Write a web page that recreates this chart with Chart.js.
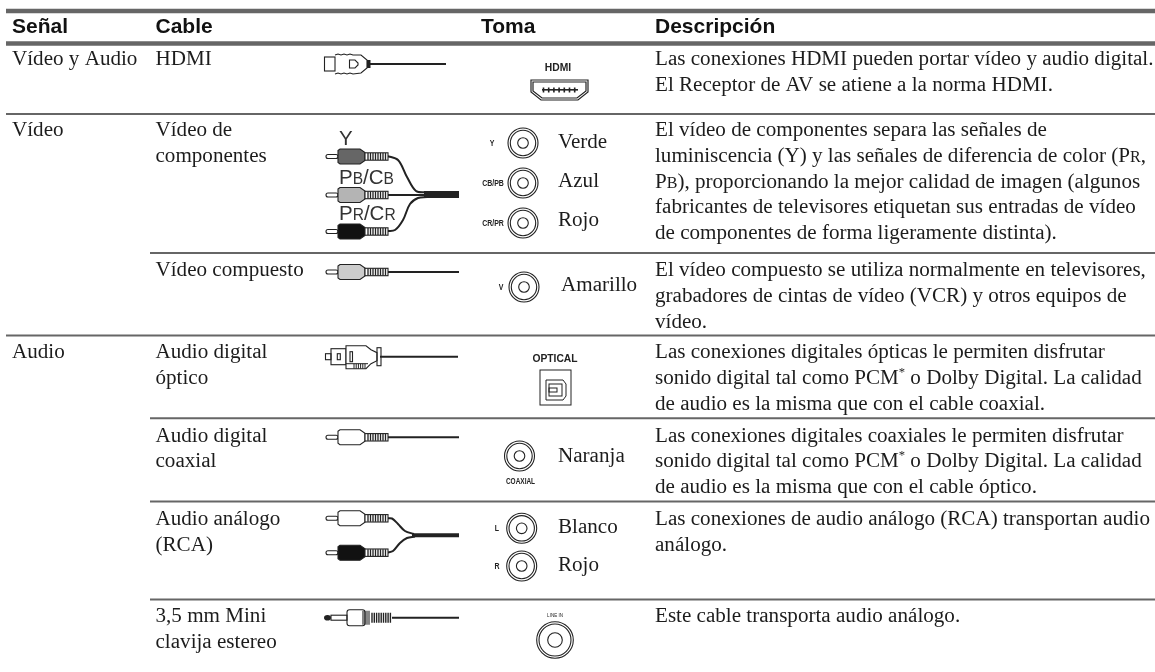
<!DOCTYPE html>
<html>
<head>
<meta charset="utf-8">
<style>
  html, body { margin: 0; padding: 0; background: #fff; }
  canvas { display: block; }
</style>
<script src="https://cdn.jsdelivr.net/npm/chart.js@4/dist/chart.umd.min.js"></script>
</head>
<body>
<canvas id="tableChart" width="1155" height="672"></canvas>
<script>
// table contents
// {x} = small capital, [x] = superscript
const headers = ['Señal', 'Cable', 'Toma', 'Descripción'];
const signals = ['Vídeo y Audio', 'Vídeo', 'Audio'];
const cables = ['HDMI', 'Vídeo de', 'componentes', 'Vídeo compuesto', 'Audio digital', 'óptico', 'Audio digital', 'coaxial', 'Audio análogo', '(RCA)', '3,5 mm Mini', 'clavija estereo'];
const descriptions = [
    'Las conexiones HDMI pueden portar vídeo y audio digital.',
    'El Receptor de AV se atiene a la norma HDMI.',
    'El vídeo de componentes separa las señales de',
    'luminiscencia (Y) y las señales de diferencia de color (P{R},',
    'P{B}), proporcionando la mejor calidad de imagen (algunos',
    'fabricantes de televisores etiquetan sus entradas de vídeo',
    'de componentes de forma ligeramente distinta).',
    'El vídeo compuesto se utiliza normalmente en televisores,',
    'grabadores de cintas de vídeo (VCR) y otros equipos de',
    'vídeo.',
    'Las conexiones digitales ópticas le permiten disfrutar',
    'sonido digital tal como PCM[*] o Dolby Digital. La calidad',
    'de audio es la misma que con el cable coaxial.',
    'Las conexiones digitales coaxiales le permiten disfrutar',
    'sonido digital tal como PCM[*] o Dolby Digital. La calidad',
    'de audio es la misma que con el cable óptico.',
    'Las conexiones de audio análogo (RCA) transportan audio',
    'análogo.',
    'Este cable transporta audio análogo.'
];
const jackColors = ['Verde', 'Azul', 'Rojo', 'Amarillo', 'Naranja', 'Blanco', 'Rojo'];
const jackTags = ['Y', 'CB/PB', 'CR/PR', 'V', 'L', 'R'];
const cablePlugTags = ['Y', 'P{B}/C{B}', 'P{R}/C{R}'];

// layout
const headerX = [12, 155.5, 481, 655];
const headerBase = 32.5;
const signalBase = [65, 136, 358];
const cableBase = [65, 136, 162, 276, 358, 384, 442, 467, 525, 551, 622, 648];
const descBase = [65, 91, 136, 162, 188, 213, 239, 276, 302, 328, 358, 384, 410, 442, 467, 493, 525, 551, 622];
const colorX = [558, 558, 558, 561, 558, 558, 558];
const colorBase = [148, 187, 226, 291, 462, 533, 571];
const tagX = [492, 493, 493, 501, 497, 497];
const tagY = [143, 183, 223, 287, 528, 566];
const thickRules = [[6, 11], [6, 43.5]];
const thinRules = [[6, 114], [150, 253], [6, 335.5], [150, 418.3], [150, 501.5], [150, 599.5]];
const jackX = [523, 523, 523, 524, 519.5, 521.7, 521.7, 555];
const jackY = [143, 183, 223, 287, 456, 528.3, 566, 640];
const ringOuter = [15, 15, 15, 15, 15, 15, 15, 18.3];
const ringInner = [12.7, 12.7, 12.7, 12.7, 12.7, 12.7, 12.7, 16];
const ringCore = [5.3, 5.3, 5.3, 5.3, 5.3, 5.3, 5.3, 7.3];
const rcaPlugs = [[156.5, '#666'], [195, '#b4b4b4'], [231.5, '#111'], [272, '#ccc'], [437.3, '#fff'], [518.3, '#fff'], [552.7, '#111']];
const wires = [
    [[387, 156], [398, 160], [407, 177], [416, 191], [427, 192.5]],
    [[387, 195], [427, 195]],
    [[387, 231], [395, 230], [403, 220], [410, 204], [418, 198], [427, 197]],
    [[387, 272], [459, 272]],
    [[369, 64], [446, 64]],
    [[380, 356.7], [458, 356.7]],
    [[387, 437.3], [459, 437.3]],
    [[387, 518.3], [392, 518.5], [398, 524], [405, 531], [414, 534]],
    [[387, 552.7], [393, 551], [400, 543], [407, 538], [415, 536.5]],
    [[392, 617.7], [459, 617.7]]
];
// where the wires run together: [from, to, y, thickness]
const bundles = [[424, 459, 194.5, 7], [412, 459, 535.3, 4]];

const ink = '#1c1c1c';
const serif = '"Liberation Serif"';
const sans = '"Liberation Sans"';

const ruleSet = (r, w) => ({
    data: [{ x: r[0], y: r[1] }, { x: 1155, y: r[1] }],
    showLine: true, borderColor: '#666', borderWidth: w, pointRadius: 0, clip: false
});
const wireSet = pts => ({
    data: pts.map(p => ({ x: p[0], y: p[1] })),
    showLine: true, borderColor: '#222', borderWidth: 2, tension: 0.35, pointRadius: 0, clip: false
});
const bundleSet = b => ({
    data: [{ x: b[0], y: b[2] }, { x: b[1], y: b[2] }],
    showLine: true, borderColor: '#222', borderWidth: b[3], pointRadius: 0, clip: false
});
const ringSet = radii => ({
    data: jackX.map((x, i) => ({ x: x, y: jackY[i] })),
    showLine: false,
    pointStyle: 'circle',
    pointRadius: radii,
    pointBackgroundColor: 'rgba(0,0,0,0)',
    pointBorderColor: '#222',
    pointBorderWidth: 1.1,
    clip: false
});

// writes a line with {small caps} and [superscripts] in it
function richText(c, str, x, y, size, family, weight) {
    const parts = str.split(/(\{[^}]*\}|\[[^\]]*\])/).filter(p => p);
    let pos = x;
    parts.forEach(p => {
        let s = size, dy = 0, t = p;
        if (p[0] === '{') { s = size * 0.76; t = p.slice(1, -1); }
        if (p[0] === '[') { s = size * 0.6; dy = -size * 0.36; t = p.slice(1, -1); }
        c.font = (weight || '') + ' ' + s + 'px ' + family;
        c.fillText(t, pos, y + dy);
        pos += c.measureText(t).width;
    });
}

// tiny narrow labels of the sockets
function narrowText(c, str, x, y, font, squeeze) {
    c.save();
    c.translate(x, y);
    c.scale(squeeze, 1);
    c.font = font;
    c.textAlign = 'center';
    c.fillText(str, 0, 0);
    c.restore();
}

function poly(c, pts, close) {
    c.beginPath();
    pts.forEach((p, i) => (i ? c.lineTo(p[0], p[1]) : c.moveTo(p[0], p[1])));
    if (close) c.closePath();
}

function ribs(c, from, to, y, h, step, w) {
    c.lineWidth = w;
    c.beginPath();
    for (let x = from; x < to; x += step) {
        c.moveTo(x, y - h);
        c.lineTo(x, y + h);
    }
    c.stroke();
}

function drawRca(c, y, fill) {
    c.lineWidth = 1.1;
    c.strokeStyle = '#222';
    c.fillStyle = '#fff';
    c.beginPath();
    c.roundRect(326, y - 2, 12, 4, 2);
    c.fill();
    c.stroke();
    c.fillStyle = fill;
    poly(c, [[338, y - 6], [340, y - 7.5], [360, y - 7.5], [365, y - 4], [365, y + 4], [360, y + 7.5], [340, y + 7.5], [338, y + 6]], true);
    c.fill();
    c.stroke();
    c.fillStyle = '#fff';
    c.fillRect(365, y - 3.7, 23, 7.4);
    c.strokeRect(365, y - 3.7, 23, 7.4);
    ribs(c, 368, 386, y, 3.5, 2.5, 1.3);
}

function drawHdmiPlug(c, y) {
    c.lineWidth = 1.1;
    c.strokeStyle = '#222';
    c.strokeRect(324.5, y - 7, 10.5, 14);
    poly(c, [[335, y - 9], [338, y - 10], [341, y - 9], [344, y - 10], [347, y - 9], [350, y - 10], [353, y - 9], [361, y - 9], [367, y - 4], [367, y + 4], [361, y + 9], [353, y + 10], [350, y + 9], [347, y + 10], [344, y + 9], [341, y + 10], [338, y + 9], [335, y + 10]], false);
    c.stroke();
    poly(c, [[349.5, y - 4], [355, y - 4], [358, y - 1], [358, y + 1], [355, y + 4], [349.5, y + 4]], true);
    c.stroke();
    c.fillStyle = '#222';
    c.fillRect(367, y - 4, 3.5, 8);
}

function drawOpticalPlug(c, y) {
    c.lineWidth = 1.1;
    c.strokeStyle = '#222';
    c.strokeRect(325.5, y - 3, 5.5, 6);
    c.strokeRect(331, y - 8, 15, 16);
    c.strokeRect(337.3, y - 3, 3, 6);
    c.fillStyle = '#fff';
    poly(c, [[346, y - 11], [366, y - 11], [371, y - 7], [377, y - 4], [377, y + 4], [371, y + 7], [366, y + 12], [346, y + 12]], true);
    c.fill();
    c.stroke();
    c.strokeRect(350, y - 5, 2.5, 10);
    c.strokeRect(377, y - 9, 4, 18);
    ribs(c, 354, 367, y + 9.5, 2.5, 2.2, 1);
    c.lineWidth = 1;
    poly(c, [[346, y + 7], [368, y + 7]], false);
    c.stroke();
}

function drawMiniPlug(c, y) {
    c.lineWidth = 1.1;
    c.strokeStyle = '#222';
    c.fillStyle = '#222';
    c.beginPath();
    c.ellipse(327.5, y, 3.5, 2.8, 0, 0, Math.PI * 2);
    c.fill();
    c.strokeRect(331, y - 2.5, 16, 5);
    c.beginPath();
    c.roundRect(347, y - 8, 18, 16, 2.5);
    c.stroke();
    ribs(c, 363, 370, y, 7, 2, 1.1);
    ribs(c, 372, 392, y, 5, 2.3, 1.4);
}

const tablePlugin = {
    id: 'tablePlugin',
    afterDatasetsDraw(chart) {
        const c = chart.ctx;
        const sx = v => chart.scales.x.getPixelForValue(v);
        const sy = v => chart.scales.y.getPixelForValue(v);
        c.save();
        c.textBaseline = 'alphabetic';
        c.textAlign = 'left';
        c.fillStyle = '#111';

        c.font = 'bold 21px ' + sans;
        headers.forEach((h, i) => c.fillText(h, sx(headerX[i]), sy(headerBase)));

        c.fillStyle = ink;
        c.font = '21.1px ' + serif;
        signals.forEach((s, i) => c.fillText(s, sx(headerX[0]), sy(signalBase[i])));
        cables.forEach((s, i) => c.fillText(s, sx(headerX[1]), sy(cableBase[i])));
        jackColors.forEach((s, i) => c.fillText(s, sx(colorX[i]), sy(colorBase[i])));
        descriptions.forEach((s, i) => richText(c, s, sx(headerX[3]), sy(descBase[i]), 21.1, serif));

        // labels on the cable picture
        c.fillStyle = '#333';
        const plugTagBase = [145, 184, 220];
        plugTagBase.forEach((b, i) => richText(c, cablePlugTags[i], sx(339), sy(b), 20.5, sans));

        // small labels next to the jacks
        c.fillStyle = '#222';
        jackTags.forEach((s, i) => narrowText(c, s, sx(tagX[i]), sy(tagY[i] + 3), 'bold 8.5px ' + sans, 0.82));
        narrowText(c, 'COAXIAL', sx(520.5), sy(484), 'bold 9px ' + sans, 0.72);
        narrowText(c, 'HDMI', sx(558), sy(70.7), 'bold 10.3px ' + sans, 1);
        narrowText(c, 'OPTICAL', sx(555), sy(362), 'bold 10.3px ' + sans, 1);
        narrowText(c, 'LINE IN', sx(555), sy(617.3), '5px ' + sans, 0.9);

        // HDMI socket
        c.strokeStyle = '#222';
        c.lineWidth = 1.2;
        poly(c, [[sx(531), sy(80)], [sx(588), sy(80)], [sx(588), sy(92)], [sx(578), sy(100)], [sx(541), sy(100)], [sx(531), sy(92)]], true);
        c.stroke();
        poly(c, [[sx(533), sy(82)], [sx(586), sy(82)], [sx(586), sy(91)], [sx(577), sy(98)], [sx(542), sy(98)], [sx(533), sy(91)]], true);
        c.stroke();
        c.fillStyle = '#222';
        c.fillRect(sx(542), sy(89), 36, 1.6);
        ribs(c, sx(543.5), sx(577), sy(90), 2.6, 5.2, 1.6);

        // optical socket
        c.lineWidth = 1;
        c.strokeRect(sx(540), sy(370), 31, 35);
        poly(c, [[sx(546), sy(380)], [sx(563), sy(380)], [sx(566), sy(384)], [sx(566), sy(396)], [sx(563), sy(400)], [sx(546), sy(400)]], true);
        c.stroke();
        c.strokeRect(sx(549), sy(384), 13, 12);
        c.strokeRect(sx(549), sy(388), 8, 4);

        rcaPlugs.forEach(p => drawRca(c, sy(p[0]), p[1]));
        drawHdmiPlug(c, sy(64));
        drawOpticalPlug(c, sy(356.7));
        drawMiniPlug(c, sy(617.7));
        c.restore();
    }
};

new Chart(document.getElementById('tableChart').getContext('2d'), {
    type: 'scatter',
    data: {
        datasets: [
            ...thickRules.map(r => ruleSet(r, 4.5)),
            ...thinRules.map(r => ruleSet(r, 2)),
            ...wires.map(wireSet),
            ...bundles.map(bundleSet),
            ringSet(ringOuter),
            ringSet(ringInner),
            ringSet(ringCore)
        ]
    },
    options: {
        responsive: false,
        animation: false,
        events: [],
        layout: { padding: 0, autoPadding: false },
        plugins: { legend: { display: false }, tooltip: { enabled: false } },
        scales: {
            x: { type: 'linear', min: 0, max: 1155, display: false },
            y: { type: 'linear', min: 0, max: 672, reverse: true, display: false }
        }
    },
    plugins: [tablePlugin]
});
</script>
</body>
</html>
